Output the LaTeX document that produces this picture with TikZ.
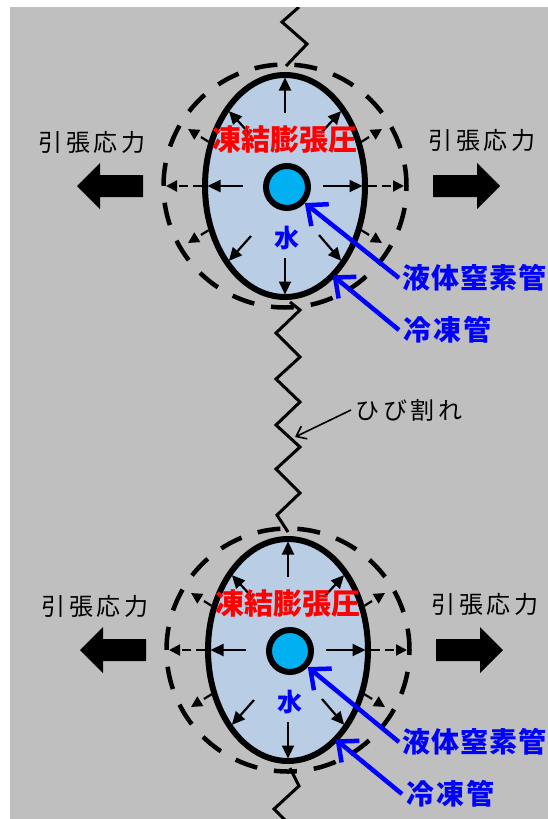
\documentclass[tikz,border=0pt]{standalone}
\usepackage{fontspec}
\newfontfamily\jp{Noto Sans CJK JP}
\usetikzlibrary{arrows.meta,shapes.geometric}
\definecolor{bggray}{RGB}{191,191,191}
\definecolor{icefill}{RGB}{185,205,229}
\definecolor{pipecyan}{RGB}{0,176,240}
\definecolor{jpblue}{RGB}{0,0,255}
\definecolor{jpred}{RGB}{255,0,0}
\newcommand\chbox[2]{\makebox[#1]{#2}}
\newcommand\tensiontext{\chbox{27.5pt}{引}\chbox{27.5pt}{張}\chbox{27.5pt}{応}\chbox{27.5pt}{力}}
\newcommand\pressuretext{\chbox{29pt}{凍}\chbox{29pt}{結}\chbox{29pt}{膨}\chbox{29pt}{張}\chbox{29pt}{圧}}
\newcommand\lntext{\chbox{29pt}{液}\chbox{29pt}{体}\chbox{29pt}{窒}\chbox{29pt}{素}\chbox{29pt}{管}}
\newcommand\fptext{\chbox{30pt}{冷}\chbox{30pt}{凍}\chbox{30pt}{管}}
\newcommand\cracktext{\chbox{27.5pt}{ひ}\chbox{27.5pt}{び}\chbox{27.5pt}{割}\chbox{27.5pt}{れ}}
\begin{document}
\begin{tikzpicture}[x=1pt,y=-1pt,
  crackline/.style={line width=3pt,line join=miter},
  dashring/.style={line width=4.5pt,dash pattern=on 23pt off 17pt,dash phase=1.5pt},
  icebody/.style={ellipse,draw,line width=6pt,fill=icefill,minimum width=160pt,minimum height=222pt,inner sep=0pt,outer sep=0pt},
  pipe/.style={circle,draw,line width=6pt,fill=pipecyan,minimum size=42pt,inner sep=0pt},
  inarrow/.style={line width=2.2pt,-{Triangle[length=13pt,width=12pt]},shorten >=2.5pt},
  outarrow/.style={line width=2.2pt,dash pattern=on 9pt off 5pt,-{Triangle[length=11pt,width=11pt]},shorten <=3pt},
  bigarrow/.style={fill=black},
  blackjp/.style={font=\jp\fontsize{24pt}{24pt}\selectfont,text=black,inner sep=0pt},
  redjp/.style={font=\jp\bfseries\fontsize{29pt}{29pt}\selectfont,text=jpred,inner sep=0pt},
  bluejp/.style={font=\jp\bfseries\fontsize{28pt}{28pt}\selectfont,text=jpblue,inner sep=3pt},
  bluearrow/.style={draw=jpblue,line width=4.5pt,-{Straight Barb[length=16pt,width=28pt]}},
  thinarrow/.style={line width=1.6pt,-{Straight Barb[length=9pt,width=14pt]}}
]
\useasboundingbox (0,0) rectangle (548,819);
\fill[bggray] (10,7) rectangle (548,819);
% cracks
\begin{scope}
\clip (10,7) rectangle (548,819);
\draw[crackline] (299,7) -- (282,22) -- (307,44) -- (286,66);
\draw[crackline] (290,302) -- (300,310) -- (276,333) -- (300,357) -- (276,379) -- (300,402) -- (276,425) -- (300,447) -- (276,469) -- (300,493) -- (277,515) -- (288,532);
\draw[crackline] (290,768) -- (299,786) -- (274,809) -- (290,825);
\end{scope}
% units
\foreach \u/\dx/\dy/\lx in {a/285/186/114, b/288/650/111}{
\begin{scope}[shift={(\dx,\dy)}]
  \draw[dashring] (0,0) circle [radius=121.5pt];
  \node[icebody] (ell\u) at (0,0) {};
  % outer dashed arrows
  \coordinate (oe\u) at (119,0);
  \coordinate (ow\u) at (-119,0);
  \coordinate (one\u) at (97,-57);
  \coordinate (onw\u) at (-97,-57);
  \coordinate (ose\u) at (97,57);
  \coordinate (osw\u) at (-97,57);
  \draw[outarrow] (ell\u.east) -- (oe\u);
  \draw[outarrow] (ell\u.west) -- (ow\u);
  \draw[outarrow] (ell\u.30) -- (one\u);
  \draw[outarrow] (ell\u.150) -- (onw\u);
  \draw[outarrow] (ell\u.-30) -- (ose\u);
  \draw[outarrow] (ell\u.-150) -- (osw\u);
  % inner arrows
  \coordinate (iu\u) at (0,-73);
  \coordinate (id\u) at (0,72);
  \coordinate (il\u) at (-42,0);
  \coordinate (ir\u) at (38,0);
  \coordinate (iul\u) at (-36,-53);
  \coordinate (iur\u) at (36,-53);
  \coordinate (idl\u) at (-34,50);
  \coordinate (idr\u) at (34,49);
  \draw[inarrow] (iu\u) -- (ell\u.north);
  \draw[inarrow] (id\u) -- (ell\u.south);
  \draw[inarrow] (il\u) -- (ell\u.west);
  \draw[inarrow] (ir\u) -- (ell\u.east);
  \draw[inarrow] (iul\u) -- (ell\u.127);
  \draw[inarrow] (iur\u) -- (ell\u.53);
  \draw[inarrow] (idl\u) -- (ell\u.-127);
  \draw[inarrow] (idr\u) -- (ell\u.-53);
  \node[pipe] (pipe\u) at (2,1) {};
  % texts
  \node[redjp] (prs\u) at (0,-46) {\pressuretext};
  \node[font=\jp\bfseries\fontsize{25pt}{25pt}\selectfont,text=jpblue,inner sep=0pt] (wat\u) at (2,52) {水};
  \node[blackjp] (tl\u) at (-193,-44) {\tensiontext};
  \node[blackjp] (tr\u) at (197,-46) {\tensiontext};
  % block arrows
  \fill[bigarrow] (-208,0) -- (-185,-23) -- (-185,-11) -- (-142,-11) -- (-142,11) -- (-185,11) -- (-185,23) -- cycle;
  \fill[bigarrow] (215,0) -- (192,-23) -- (192,-11) -- (148,-11) -- (148,11) -- (192,11) -- (192,23) -- cycle;
  % blue labels
  \node[bluejp,anchor=west] (ln\u) at (\lx,92) {\lntext};
  \node[bluejp,anchor=west] (fp\u) at (114,144) {\fptext};
  \draw[bluearrow] (ln\u.west) -- (pipe\u.-42);
  \draw[bluearrow] (fp\u.west) -- (ell\u.-62);
\end{scope}
}
% crack label
\node[blackjp,anchor=west,inner sep=3pt] (crk) at (351,410) {\cracktext};
\coordinate (crackpt) at (295,437);
\draw[thinarrow] (crk.west) -- (crackpt);
\end{tikzpicture}
\end{document}
